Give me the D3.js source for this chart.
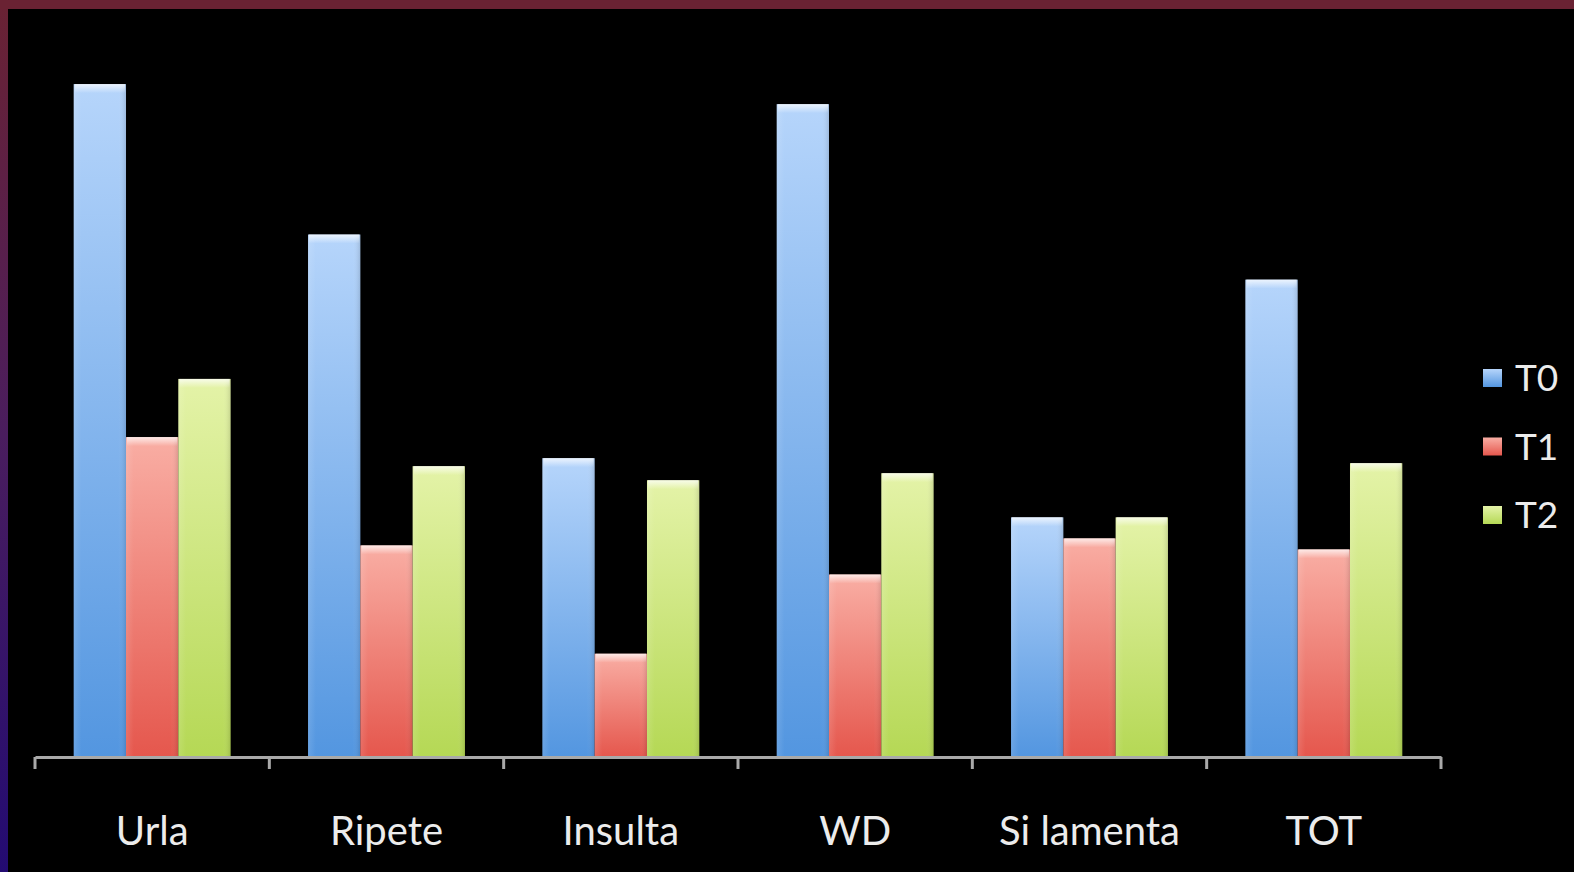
<!DOCTYPE html>
<html><head><meta charset="utf-8">
<script src="https://cdn.jsdelivr.net/npm/d3@7"></script>
<style>html,body{margin:0;padding:0;background:#000;overflow:hidden}</style>
</head><body>
<svg id="c" width="1574" height="872"></svg>
<script>
const categories = ["Urla", "Ripete", "Insulta", "WD", "Si lamenta", "TOT"];
const seriesNames = ["T0", "T1", "T2"];
const T0 = [6.71, 5.21, 2.98, 6.51, 2.39, 4.76];
const T1 = [3.19, 2.11, 1.03, 1.82, 2.18, 2.07];
const T2 = [3.77, 2.90, 2.76, 2.83, 2.39, 2.93];
const seriesValues = [T0, T1, T2];
const seriesColors = [
  {top:"#b6d5fb", bot:"#5396e0"},
  {top:"#f9aea4", bot:"#e5574d"},
  {top:"#e4f3a8", bot:"#b5d855"}
];

const svg = d3.select("#c");
const W = 1574, H = 872;
const defs = svg.append("defs");

svg.append("rect").attr("width", W).attr("height", H).attr("fill", "#000");
const lg = defs.append("linearGradient").attr("id","leftband").attr("x1",0).attr("y1",0).attr("x2",0).attr("y2",1);
lg.append("stop").attr("offset","0%").attr("stop-color","#6a2233");
lg.append("stop").attr("offset","50%").attr("stop-color","#4a1d5e");
lg.append("stop").attr("offset","100%").attr("stop-color","#230b72");
svg.append("rect").attr("x",0).attr("y",0).attr("width",8).attr("height",H).attr("fill","url(#leftband)");
svg.append("rect").attr("x",0).attr("y",0).attr("width",W).attr("height",9).attr("fill","#6a2233");

const x0 = d3.scaleBand().domain(categories).range([35, 1441]).paddingInner(0).paddingOuter(0);
const x1 = d3.scaleBand().domain(seriesNames).range([0, x0.bandwidth()]).paddingInner(0).paddingOuter(0.74);
const y = d3.scaleLinear().domain([0, 7]).range([757, 55]);

seriesColors.forEach((c, i) => {
  const g = defs.append("linearGradient").attr("id","g"+i).attr("x1",0).attr("y1",0).attr("x2",0).attr("y2",1);
  g.append("stop").attr("offset","0%").attr("stop-color",c.top);
  g.append("stop").attr("offset","100%").attr("stop-color",c.bot);
  const h = defs.append("linearGradient").attr("id","h"+i).attr("x1",0).attr("y1",0).attr("x2",1).attr("y2",0);
  h.append("stop").attr("offset","0%").attr("stop-color","#fff").attr("stop-opacity",0.12);
  h.append("stop").attr("offset","15%").attr("stop-color","#fff").attr("stop-opacity",0);
  h.append("stop").attr("offset","85%").attr("stop-color","#fff").attr("stop-opacity",0);
  h.append("stop").attr("offset","100%").attr("stop-color","#000").attr("stop-opacity",0.12);
});
const tg = defs.append("linearGradient").attr("id","topgloss").attr("x1",0).attr("y1",0).attr("x2",0).attr("y2",1);
tg.append("stop").attr("offset","0%").attr("stop-color","#fff").attr("stop-opacity",0.75);
tg.append("stop").attr("offset","100%").attr("stop-color","#fff").attr("stop-opacity",0);

const groups = svg.append("g").selectAll("g").data(categories).join("g")
  .attr("transform", d => `translate(${x0(d)},0)`);
groups.each(function(cat, ci) {
  const g = d3.select(this);
  seriesNames.forEach((s, si) => {
    const v = seriesValues[si][ci];
    const bx = x1(s), bw = x1.bandwidth();
    g.append("rect").attr("x", bx).attr("y", y(v)).attr("width", bw).attr("height", y(0) - y(v))
      .attr("fill", `url(#g${si})`);
    g.append("rect").attr("x", bx).attr("y", y(v)).attr("width", bw).attr("height", y(0) - y(v))
      .attr("fill", `url(#h${si})`);
    g.append("rect").attr("x", bx + 1).attr("y", y(v)).attr("width", bw - 2).attr("height", 9)
      .attr("fill", "url(#topgloss)");
  });
});

const axis = d3.axisBottom(x0).tickValues([]).tickSizeOuter(0);
const ag = svg.append("g").attr("transform", "translate(0,757)").call(axis);
ag.select(".domain").attr("stroke", "#a9a9a9").attr("stroke-width", 3);
const tickPos = categories.map(c => x0(c)).concat([x0.range()[1]]);
ag.selectAll("line.tk").data(tickPos).join("line").attr("class","tk")
  .attr("x1", d => d).attr("x2", d => d).attr("y1", 0).attr("y2", 12)
  .attr("stroke", "#a9a9a9").attr("stroke-width", 3);
ag.selectAll("text.lbl").data(categories).join("text").attr("class","lbl")
  .attr("x", d => x0(d) + x0.bandwidth()/2).attr("y", 88)
  .attr("text-anchor","middle").attr("fill","#ececec")
  .style("font-family","Lato, 'Open Sans', sans-serif").style("font-size","40px")
  .text(d => d);

const leg = svg.append("g").attr("transform","translate(1483,0)");
const legY = d3.scalePoint().domain(seriesNames).range([378, 515]);
seriesNames.forEach((s, si) => {
  leg.append("rect").attr("x",0).attr("y",legY(s)-9).attr("width",19).attr("height",18).attr("fill",`url(#g${si})`);
  leg.append("text").attr("x",32).attr("y",legY(s)+13).attr("fill","#ececec")
    .style("font-family","Lato, 'Open Sans', sans-serif").style("font-size","37px").text(s);
});
</script>
</body></html>
